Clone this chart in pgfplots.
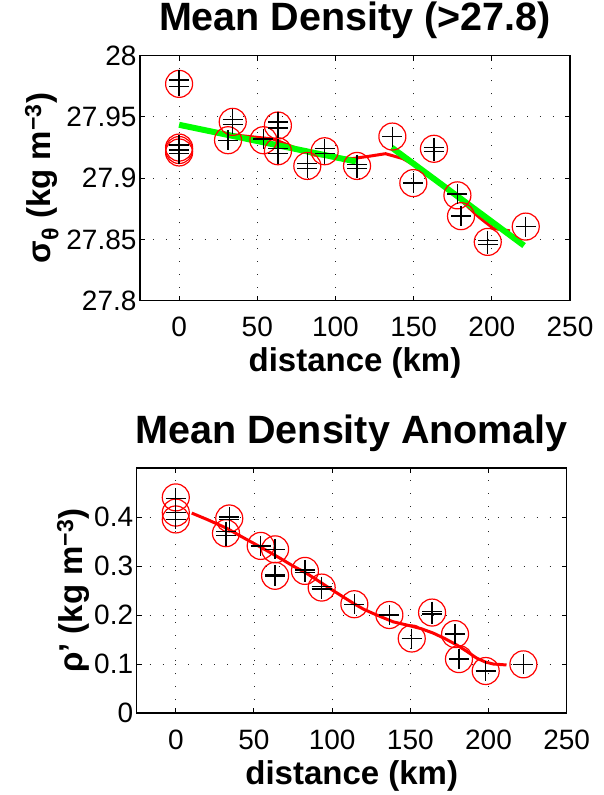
\documentclass[border=0pt]{standalone}
\usepackage{fontspec}
\setmainfont{Liberation Sans}
\usepackage{pgfplots}
\pgfplotsset{compat=1.18}

\pgfplotsset{mstyle/.style={
  scale only axis, width=430pt, height=245pt,
  xmin=-25, xmax=250, xtick={0,50,...,250},
  grid=major,
  major grid style={black!85, line width=0.9pt, dash pattern=on 0.9pt off 12pt},
  axis line style={line width=1.3pt},
  major tick style={line width=1pt, black},
  tick align=inside, major tick length=5pt,
  ticklabel style={font=\fontsize{28}{30}\selectfont},
  /pgf/number format/assume math mode=true,
  label style={font=\bfseries\fontsize{33}{36}\selectfont},
  title style={font=\bfseries\fontsize{39.5}{42}\selectfont, at={(0.5,1)}, anchor=base, yshift=19pt},
  xlabel style={at={(0.5,0)}, anchor=base, yshift=-71pt},
  xticklabel style={anchor=base, yshift=-36pt},
  yticklabel style={/pgf/number format/fixed, /pgf/number format/precision=2},
}}

\begin{document}
\begin{tikzpicture}
\useasboundingbox (0,0) rectangle (603pt,795pt);

% top panel
\begin{axis}[mstyle, at={(140pt,494.3pt)}, anchor=south west,
  ymin=27.8, ymax=28, ytick={27.8,27.85,27.9,27.95,28},
  title={Mean Density (>27.8)}, xlabel={distance (km)},
  ylabel={σ\textsubscript{θ} (kg m\textsuperscript{−3})},
  ylabel style={at={(axis description cs:-0.209,0.5)}, anchor=base}]
\addplot[only marks, mark=o, red, mark size=13.5pt, line width=1.2pt] coordinates {
(0,27.977) (0,27.925) (0,27.923) (0,27.921) (34.3,27.946) (31.3,27.931)
(53.9,27.931) (63.2,27.943) (63.2,27.922) (82,27.910) (93.1,27.922)
(113.8,27.910) (136.4,27.934) (149.8,27.896) (163,27.924) (178,27.886)
(180.3,27.869) (197.4,27.848) (221.7,27.8605)};
\addplot[only marks, mark=+, black, mark size=10pt, line width=1.4pt] coordinates {
(0,27.980) (0,27.975) (0,27.927) (0,27.923) (0,27.920) (34.3,27.948) (34.3,27.944)
(31.3,27.931) (53.9,27.932) (63.2,27.946) (63.2,27.941) (63.2,27.924) (63.2,27.920)
(82,27.912) (82,27.908) (93.1,27.924) (93.1,27.920) (113.8,27.911) (113.8,27.908)
(136.4,27.934) (149.8,27.896) (163,27.925) (163,27.922) (178,27.887) (180.3,27.869)
(197.4,27.849) (197.4,27.846) (221.7,27.8605)};
\addplot[red, line width=3pt] coordinates {
(10,27.941) (30,27.936) (45,27.934) (60,27.932) (72,27.926) (86,27.919) (100,27.917)
(111,27.916) (122,27.918) (132,27.920) (143,27.916) (150,27.911) (156,27.907)
(165,27.898) (172,27.891) (182,27.880) (192,27.868) (201,27.859) (211.6,27.857)};
\addplot[green, line width=6pt] coordinates {(0,27.9436) (113.1,27.9136)};
\addplot[green, line width=6pt] coordinates {(136,27.925) (220.6,27.845)};
\end{axis}

% bottom panel
\begin{axis}[mstyle, at={(136.7pt,82pt)}, anchor=south west,
  ymin=0, ymax=0.5, ytick={0,0.1,0.2,0.3,0.4},
  title={Mean Density Anomaly}, xlabel={distance (km)},
  ylabel={ρ' (kg m\textsuperscript{−3})},
  ylabel style={at={(axis description cs:-0.127,0.5)}, anchor=base}]
\addplot[only marks, mark=o, red, mark size=13.5pt, line width=1.2pt] coordinates {
(0,0.440) (0,0.409) (0,0.395) (34.2,0.397) (32.1,0.367) (54.3,0.341) (63.5,0.334)
(63.5,0.280) (82.6,0.290) (93.3,0.256) (114.2,0.222) (136.6,0.200) (150.9,0.152)
(163.9,0.205) (178.6,0.161) (181.1,0.110) (198.2,0.0857) (222.3,0.0993)};
\addplot[only marks, mark=+, black, mark size=10pt, line width=1.4pt] coordinates {
(0,0.438) (0,0.409) (0,0.395) (34.2,0.400) (34.2,0.395) (32.1,0.370) (32.1,0.362)
(54.3,0.341) (63.5,0.334) (63.5,0.282) (63.5,0.279) (82.6,0.292) (82.6,0.287)
(93.3,0.258) (93.3,0.253) (114.2,0.222) (136.6,0.200) (150.9,0.152) (163.9,0.207)
(163.9,0.202) (178.6,0.161) (181.1,0.110) (198.2,0.0857) (222.3,0.0993)};
\addplot[red, line width=3pt] coordinates {
(10.2,0.408) (20,0.395) (32.6,0.377) (42,0.360) (51.7,0.343) (59,0.330) (66.6,0.316)
(75,0.300) (83.7,0.285) (91,0.270) (98.6,0.254) (106,0.239) (113.5,0.224) (120,0.212)
(126.3,0.203) (133,0.194) (139.1,0.186) (149.8,0.178) (157,0.172) (164.7,0.163)
(172,0.152) (179.6,0.139) (186,0.126) (192.4,0.112) (198,0.104) (203,0.100) (211.5,0.098)};
\end{axis}
\end{tikzpicture}
\end{document}
